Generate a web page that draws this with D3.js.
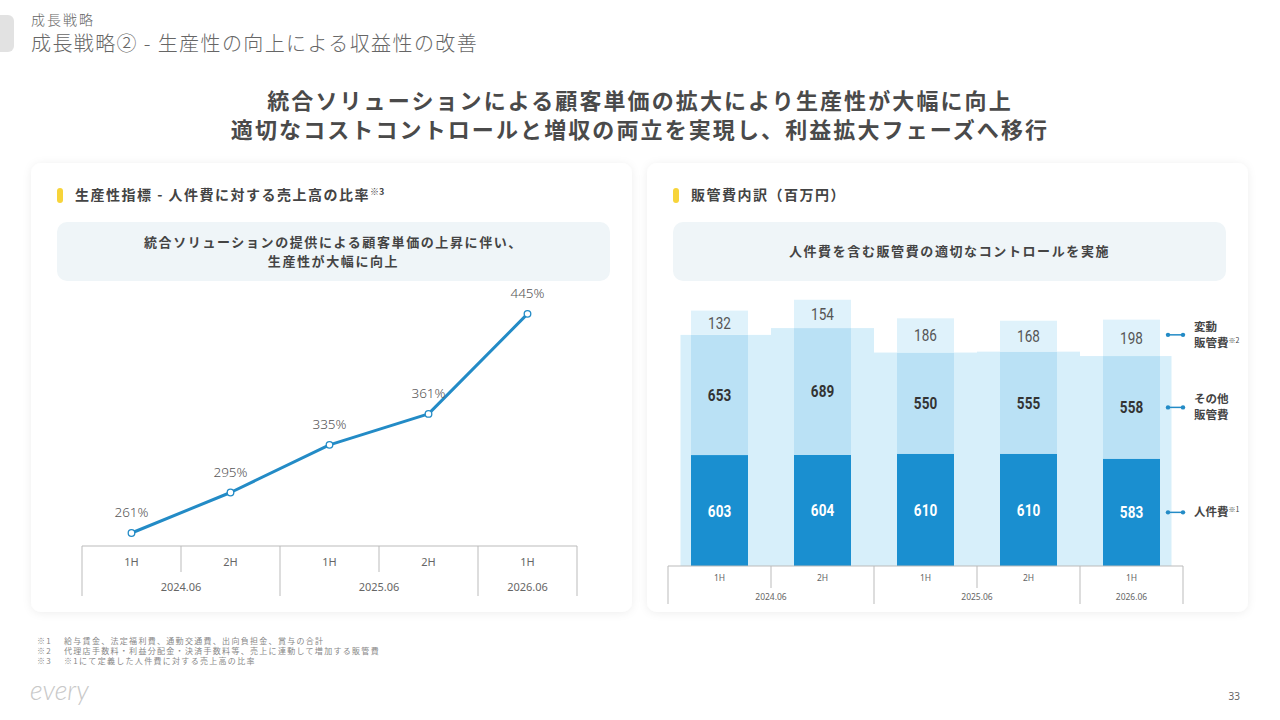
<!DOCTYPE html>
<html><head><meta charset="utf-8">
<script src="https://cdn.jsdelivr.net/npm/d3@7"></script>
<style>
html,body{margin:0;padding:0;background:#fff;}
svg{display:block;font-family:"Noto Sans CJK JP","Noto Sans",sans-serif;}
</style></head>
<body>
<svg id="c" width="1280" height="720"></svg>
<script>
// ---- data ----
const periods = ["1H","2H","1H","2H","1H"];
const fiscalYears = ["2024.06","2024.06","2025.06","2025.06","2026.06"];
const ratio = [261,295,335,361,445];
const labor = [603,604,610,610,583];
const otherSGA = [653,689,550,555,558];
const variableSGA = [132,154,186,168,198];
const seriesNames = [["人件費","※1"],["その他","販管費"],["変動","販管費","※2"]];
const footnotes = [
  ["※1","給与賃金、法定福利費、通勤交通費、出向負担金、賞与の合計"],
  ["※2","代理店手数料・利益分配金・決済手数料等、売上に連動して増加する販管費"],
  ["※3","※1にて定義した人件費に対する売上高の比率"]
];

const svg = d3.select("#c");
const defs = svg.append("defs");
const f = defs.append("filter").attr("id","sh").attr("x","-5%").attr("y","-5%").attr("width","110%").attr("height","110%");
f.append("feDropShadow").attr("dx",0).attr("dy",1).attr("stdDeviation",4).attr("flood-color","#000").attr("flood-opacity",0.07);

// header
svg.append("rect").attr("x",-10).attr("y",15).attr("width",24).attr("height",37).attr("rx",6).attr("fill","#e2e2e2");
svg.append("text").attr("x",31).attr("y",25).attr("font-size",14).attr("font-weight",300).attr("letter-spacing",2).attr("fill","#666").text("成長戦略");
svg.append("text").attr("x",31).attr("y",51).attr("font-size",20).attr("font-weight",300).attr("letter-spacing",1.4).attr("fill","#666").text("成長戦略② - 生産性の向上による収益性の改善");

svg.append("text").attr("x",640).attr("y",109).attr("text-anchor","middle").attr("font-size",22).attr("letter-spacing",2.1).attr("font-weight",700).attr("fill","#4a4a4a").text("統合ソリューションによる顧客単価の拡大により生産性が大幅に向上");
svg.append("text").attr("x",640).attr("y",138).attr("text-anchor","middle").attr("font-size",22).attr("letter-spacing",2.1).attr("font-weight",700).attr("fill","#4a4a4a").text("適切なコストコントロールと増収の両立を実現し、利益拡大フェーズへ移行");

// cards
function card(x, title, sup, sub){
  svg.append("rect").attr("x",x).attr("y",163).attr("width",601).attr("height",449).attr("rx",10).attr("fill","#fff").attr("filter","url(#sh)");
  svg.append("rect").attr("x",x+26).attr("y",188).attr("width",6).attr("height",15).attr("rx",3).attr("fill","#f7d43a");
  const t = svg.append("text").attr("x",x+44).attr("y",200).attr("font-size",14).attr("letter-spacing",1.5).attr("font-weight",700).attr("fill","#444").text(title);
  if(sup) t.append("tspan").attr("font-size",9).attr("letter-spacing",0).attr("dy",-5).text(sup);
  svg.append("rect").attr("x",x+26).attr("y",222).attr("width",553).attr("height",59).attr("rx",10).attr("fill","#eff5f8");
  const cx = x+26+553/2;
  if(sub.length===1){
    svg.append("text").attr("x",cx).attr("y",256).attr("text-anchor","middle").attr("font-size",13).attr("letter-spacing",1.6).attr("font-weight",700).attr("fill","#444").text(sub[0]);
  } else {
    sub.forEach((s,i)=>svg.append("text").attr("x",cx).attr("y",247+i*19).attr("text-anchor","middle").attr("font-size",13).attr("letter-spacing",1.6).attr("font-weight",700).attr("fill","#444").text(s));
  }
}
card(31,"生産性指標 - 人件費に対する売上高の比率","※3",["統合ソリューションの提供による顧客単価の上昇に伴い、","生産性が大幅に向上"]);
card(647,"販管費内訳（百万円）",null,["人件費を含む販管費の適切なコントロールを実施"]);

// category table axis
function catAxis(x, y0, hShort, hFull, yLab1, yLab2, fs, color){
  const step = x.step();
  const [r0,r1] = x.range();
  const g = svg.append("g");
  g.append("line").attr("x1",r0).attr("x2",r1).attr("y1",y0).attr("y2",y0).attr("stroke","#bbb");
  for(let i=0;i<=periods.length;i++){
    const bx = r0 + i*step;
    const full = i===0 || i===periods.length || fiscalYears[i]!==fiscalYears[i-1];
    g.append("line").attr("x1",bx).attr("x2",bx).attr("y1",y0).attr("y2",y0+(full?hFull:hShort)).attr("stroke","#bbb");
  }
  periods.forEach((p,i)=>{
    g.append("text").attr("x",x(i)+step/2).attr("y",yLab1).attr("text-anchor","middle").attr("font-size",fs).attr("fill",color).attr("font-family","Noto Sans, sans-serif").text(p);
  });
  const groups = d3.groups(fiscalYears.map((y,i)=>({y,i})), d=>d.y);
  groups.forEach(([yr, items])=>{
    const a = x(items[0].i), b = x(items[items.length-1].i)+step;
    g.append("text").attr("x",(a+b)/2).attr("y",yLab2).attr("text-anchor","middle").attr("font-size",fs).attr("fill",color).attr("font-family","Noto Sans, sans-serif").text(yr);
  });
}

// ---- left chart: line ----
const xL = d3.scaleBand().domain(d3.range(periods.length)).range([82,577]).padding(0);
const yL = d3.scaleLinear().domain([240,460]).range([558,296]);
catAxis(xL, 546, 26, 50, 566, 591, 11, "#666");
const line = d3.line().x((d,i)=>xL(i)+xL.step()/2).y(d=>yL(d));
svg.append("path").datum(ratio).attr("d",line).attr("fill","none").attr("stroke","#238bc6").attr("stroke-width",3).attr("stroke-linejoin","round");
svg.selectAll(".pt").data(ratio).join("circle").attr("cx",(d,i)=>xL(i)+xL.step()/2).attr("cy",d=>yL(d)).attr("r",3.3).attr("fill","#fff").attr("stroke","#238bc6").attr("stroke-width",1.3);
svg.selectAll(".pl").data(ratio).join("text").attr("x",(d,i)=>xL(i)+xL.step()/2).attr("y",d=>yL(d)-16).attr("text-anchor","middle").attr("font-size",13.5).attr("font-weight",300).attr("fill","#555").attr("font-family","Noto Sans, sans-serif").text(d=>d+"%");

// ---- right chart: stacked bars ----
const xR = d3.scaleBand().domain(d3.range(periods.length)).range([668,1183]).paddingInner(0).paddingOuter(0);
const yR = d3.scaleLinear().domain([0,1500]).range([566,290]);
const barW = 57;
const cxR = i=>xR(i)+xR.step()/2;
const n = periods.length;
const bg = d3.range(n).map(i=>{
  const x0 = i===0 ? cxR(i)-39 : (cxR(i-1)+cxR(i))/2;
  const x1 = i===n-1 ? cxR(i)+40 : (cxR(i)+cxR(i+1))/2;
  return {x0,x1,v:labor[i]+otherSGA[i]};
});
svg.selectAll(".bg").data(bg).join("rect").attr("x",d=>d.x0).attr("width",d=>d.x1-d.x0).attr("y",d=>yR(d.v)).attr("height",d=>yR(0)-yR(d.v)).attr("fill","#d7effa");

const stack = d3.stack().keys(["labor","other","variable"])(d3.range(n).map(i=>({labor:labor[i],other:otherSGA[i],variable:variableSGA[i]})));
const colors = ["#1a8fd0","#bae1f5","#dff2fb"];
const labelColors = ["#fff","#333","#555"];
const labelWeights = [700,700,400];
stack.forEach((s,k)=>{
  svg.selectAll(".b"+k).data(s).join("rect").attr("x",(d,i)=>cxR(i)-barW/2).attr("width",barW).attr("y",d=>yR(d[1])).attr("height",d=>yR(d[0])-yR(d[1])).attr("fill",colors[k]);
  svg.selectAll(".l"+k).data(s).join("g")
    .attr("transform",(d,i)=>`translate(${cxR(i)},${(yR(d[0])+yR(d[1]))/2+6}) scale(0.82,1)`)
    .append("text").attr("text-anchor","middle").attr("font-size",16.5).attr("font-weight",labelWeights[k]).attr("fill",labelColors[k])
    .attr("font-family","Roboto, sans-serif").text(d=>d[1]-d[0]);
});
catAxis(xR, 566, 22, 38, 581, 600, 8.5, "#666");

// legend aligned to last bar segments
const last = n-1;
stack.forEach((s,k)=>{
  const d = s[last];
  const ly = (yR(d[0])+yR(d[1]))/2 - (k===2?3:0);
  svg.append("line").attr("x1",1168).attr("x2",1183).attr("y1",ly).attr("y2",ly).attr("stroke","#238bc6").attr("stroke-width",1.5);
  svg.append("circle").attr("cx",1168).attr("cy",ly).attr("r",2.2).attr("fill","#238bc6");
  svg.append("circle").attr("cx",1183).attr("cy",ly).attr("r",2.2).attr("fill","#238bc6");
  const nm = seriesNames[k];
  if(k===0){
    const t = svg.append("text").attr("x",1194).attr("y",ly+4).attr("font-size",11.5).attr("font-weight",700).attr("fill","#444").text(nm[0]);
    t.append("tspan").attr("font-size",7).attr("dy",-4).attr("font-weight",400).text(nm[1]);
  } else {
    svg.append("text").attr("x",1194).attr("y",ly-4).attr("font-size",11.5).attr("font-weight",700).attr("fill","#444").text(nm[0]);
    const t = svg.append("text").attr("x",1194).attr("y",ly+12).attr("font-size",11.5).attr("font-weight",700).attr("fill","#444").text(nm[1]);
    if(nm[2]) t.append("tspan").attr("font-size",7).attr("dy",-4).attr("font-weight",400).text(nm[2]);
  }
});

// footnotes
footnotes.forEach((fn,i)=>{
  svg.append("text").attr("x",37).attr("y",644+i*10).attr("font-size",8).attr("letter-spacing",1.3).attr("fill","#888").text(fn[0]);
  svg.append("text").attr("x",64).attr("y",644+i*10).attr("font-size",8).attr("letter-spacing",1.3).attr("fill","#888").text(fn[1]);
});
svg.append("text").attr("x",30).attr("y",700).attr("font-size",27).attr("font-style","italic").attr("font-weight",300).attr("fill","#c8c8c8").attr("font-family","Lato, sans-serif").text("every");
svg.append("text").attr("x",1240).attr("y",700).attr("text-anchor","end").attr("font-size",10).attr("fill","#666").attr("font-family","Noto Sans, sans-serif").text("33");
</script>
</body></html>
